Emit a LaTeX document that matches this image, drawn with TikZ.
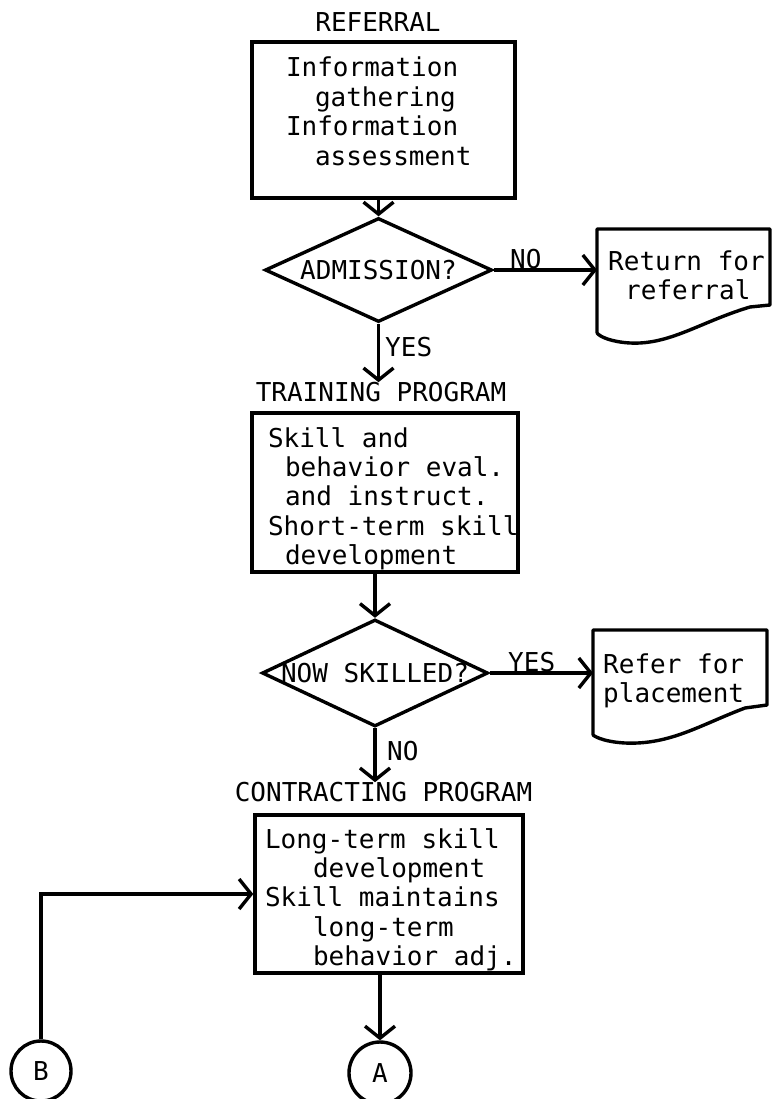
\documentclass[tikz,border=0pt]{standalone}
\usepackage{fontspec}
\newfontfamily\tw{DejaVu Sans Mono}
\usetikzlibrary{arrows.meta,shapes.geometric}
\newcommand\Lx[1]{\mbox{\spaceskip=0pt\xspaceskip=0pt\relax #1}}
\begin{document}
\begin{tikzpicture}[x=1pt,y=-1pt,
  font=\tw\fontsize{26pt}{29.4pt}\selectfont,
  lw/.style={line width=3.4pt},
  box/.style={draw,lw,rectangle,inner ysep=0pt,align=left},
  dia/.style={draw,lw,diamond,aspect=2.2,inner sep=-4pt},
  lbl/.style={inner sep=0pt},
  conn/.style={lw,-{Straight Barb[length=12pt,width=30pt]}},
  circ/.style={draw,lw,circle,inner sep=0pt},
  docshape/.style={lw,line join=round,line cap=round},
]
\useasboundingbox (0,0) rectangle (772,1099);

% REFERRAL
\node[lbl,anchor=base] (lref) at (378,32) {REFERRAL};
\node[box,minimum width=263pt,minimum height=156pt,inner xsep=34pt,text width=195pt] (b1) at (383.5,120)
  {\rule{0pt}{35pt}\Lx{Information}\\\Lx{\hspace*{29pt}gathering}\\\Lx{Information}\\\Lx{\hspace*{29pt}assessment}\rule[-32.8pt]{0pt}{0pt}};

\node[dia,minimum width=227pt,minimum height=104pt] (d1) at (378.5,270) {ADMISSION?};
\node[lbl,anchor=base west] (no1) at (510,268) {NO};
\node[lbl,anchor=north west,inner xsep=11pt,align=left] (ret) at (597,246)
  {\rule{0pt}{24pt}\Lx{Return for}\\\Lx{\hspace*{17pt}referral}};
\draw[docshape] (597,333) -- (597,229) -- (770,229) -- (770,305) -- (750,307)
  .. controls (700,322) and (670,345) .. (630,343)
  .. controls (612,342) and (600,337) .. (597,333);

\node[lbl,anchor=base west] (yes1) at (385,356.7) {YES};
\node[lbl,anchor=base] (train) at (381,401.7) {TRAINING PROGRAM};
\node[box,minimum width=266pt,minimum height=159pt,inner xsep=16pt,text width=234pt] (b2) at (385,492.5)
  {\rule{0pt}{34pt}\Lx{Skill and}\\\Lx{\hspace*{17pt}behavior eval.}\\\Lx{\hspace*{17pt}and instruct.}\\\Lx{Short-term skill}\\\Lx{\hspace*{17pt}development}\rule[-7.4pt]{0pt}{0pt}};

\node[dia,minimum width=226pt,minimum height=107pt] (d2) at (375,673) {NOW SKILLED?};
\node[lbl,anchor=base west] (yes2) at (508,671.7) {YES};
\node[lbl,anchor=north west,inner xsep=10pt,align=left] (ref) at (593,649.3)
  {\rule{0pt}{24pt}\Lx{Refer for}\\\Lx{placement}};
\draw[docshape] (593,735) -- (593,630) -- (767,630) -- (767,705) -- (745,708)
  .. controls (700,725) and (670,745) .. (625,743)
  .. controls (607,742) and (597,738) .. (593,735);

\node[lbl,anchor=base west] (no2) at (387,760) {NO};
\node[lbl,anchor=base] (contr) at (383.5,801.7) {CONTRACTING PROGRAM};
\node[box,minimum width=268pt,minimum height=158pt,inner xsep=10pt,text width=248pt] (b3) at (389,894)
  {\rule{0pt}{33pt}\Lx{Long-term skill}\\\Lx{\hspace*{48pt}development}\\\Lx{Skill maintains}\\\Lx{\hspace*{48pt}long-term}\\\Lx{\hspace*{48pt}behavior adj.}\rule[-7.4pt]{0pt}{0pt}};

\node[circ,minimum size=60pt] (B) at (41,1071) {B};
\node[circ,minimum size=62pt] (A) at (380,1073) {A};

% connectors
\draw[conn] (d1.north |- b1.south) -- (d1.north);
\draw[conn] (d1.east) -- (d1.east -| ret.west);
\draw[conn] (d1.south) -- (d1.south |- train.north);
\draw[conn] (d2.north |- b2.south) -- (d2.north);
\draw[conn] (d2.east) -- (d2.east -| ref.west);
\draw[conn] (d2.south) -- (d2.south |- contr.north);
\draw[conn] (A.north |- b3.south) -- (A.north);
\draw[conn] (B.north) |- (b3.west);
\end{tikzpicture}
\end{document}
